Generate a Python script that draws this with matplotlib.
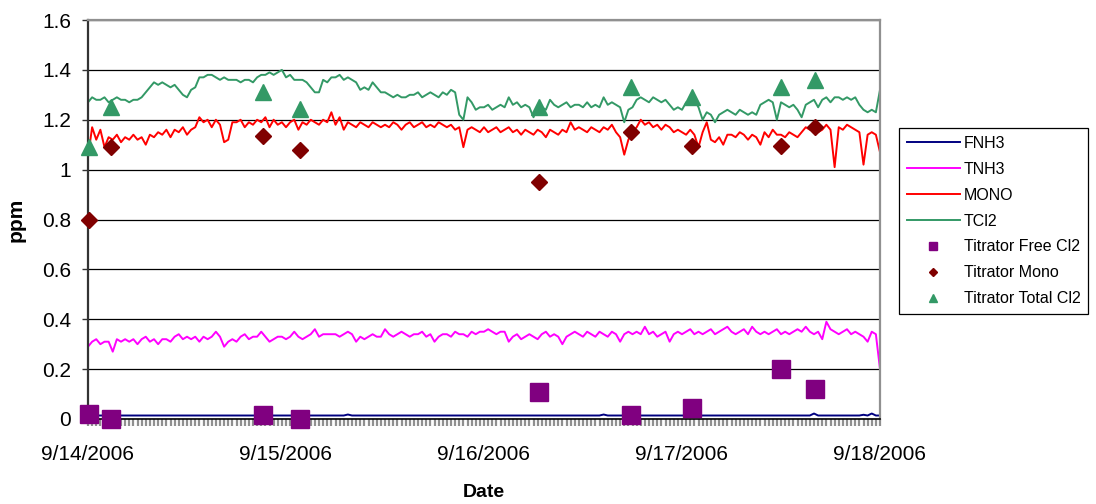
import matplotlib
matplotlib.use("Agg")
import matplotlib.pyplot as plt
import matplotlib.dates as mdates
import numpy as np
import pandas as pd

plt.rcParams['font.family'] = ['Liberation Sans', 'DejaVu Sans']

# online analyser, one reading every 30 minutes from 9/14/2006 00:00
start = "2006-09-14 00:00"

TCL2 = [
    1.27, 1.29, 1.28, 1.28, 1.29, 1.27, 1.28, 1.29, 1.28, 1.28, 1.27, 1.28,
    1.28, 1.29, 1.31, 1.33, 1.35, 1.34, 1.35, 1.34, 1.33, 1.34, 1.32, 1.30,
    1.29, 1.32, 1.33, 1.37, 1.37, 1.38, 1.38, 1.37, 1.36, 1.37, 1.36, 1.36,
    1.36, 1.35, 1.36, 1.36, 1.35, 1.37, 1.38, 1.38, 1.39, 1.38, 1.39, 1.40,
    1.37, 1.38, 1.36, 1.36, 1.36, 1.35, 1.33, 1.31, 1.31, 1.36, 1.35, 1.37,
    1.37, 1.38, 1.36, 1.37, 1.36, 1.35, 1.32, 1.33, 1.32, 1.35, 1.33, 1.31,
    1.31, 1.30, 1.29, 1.30, 1.29, 1.29, 1.30, 1.30, 1.31, 1.29, 1.30, 1.31,
    1.30, 1.29, 1.31, 1.30, 1.32, 1.31, 1.22, 1.20, 1.29, 1.27, 1.24, 1.25,
    1.25, 1.26, 1.24, 1.25, 1.26, 1.25, 1.29, 1.26, 1.27, 1.25, 1.26, 1.25,
    1.21, 1.25, 1.25, 1.24, 1.28, 1.26, 1.25, 1.26, 1.27, 1.25, 1.26, 1.26,
    1.25, 1.27, 1.25, 1.26, 1.25, 1.29, 1.26, 1.27, 1.26, 1.25, 1.19, 1.24,
    1.25, 1.28, 1.29, 1.28, 1.27, 1.29, 1.28, 1.27, 1.28, 1.26, 1.24, 1.25,
    1.24, 1.27, 1.27, 1.28, 1.25, 1.20, 1.23, 1.22, 1.19, 1.22, 1.23, 1.24,
    1.23, 1.22, 1.24, 1.23, 1.22, 1.23, 1.22, 1.26, 1.27, 1.28, 1.27, 1.20,
    1.27, 1.26, 1.25, 1.26, 1.24, 1.21, 1.26, 1.27, 1.28, 1.25, 1.28, 1.29,
    1.27, 1.29, 1.29, 1.28, 1.29, 1.28, 1.29, 1.26, 1.24, 1.23, 1.24, 1.23,
    1.32,
]

MONO = [
    1.05, 1.17, 1.12, 1.16, 1.09, 1.13, 1.12, 1.14, 1.11, 1.13, 1.12, 1.14,
    1.12, 1.13, 1.10, 1.14, 1.13, 1.15, 1.14, 1.16, 1.13, 1.16, 1.15, 1.17,
    1.14, 1.16, 1.17, 1.21, 1.19, 1.20, 1.17, 1.20, 1.18, 1.11, 1.12, 1.19,
    1.19, 1.20, 1.17, 1.19, 1.18, 1.20, 1.19, 1.21, 1.17, 1.20, 1.18, 1.19,
    1.17, 1.19, 1.20, 1.16, 1.19, 1.18, 1.20, 1.19, 1.18, 1.20, 1.19, 1.23,
    1.18, 1.21, 1.16, 1.19, 1.18, 1.17, 1.19, 1.18, 1.17, 1.19, 1.18, 1.17,
    1.18, 1.17, 1.19, 1.18, 1.16, 1.18, 1.19, 1.17, 1.18, 1.19, 1.17, 1.18,
    1.17, 1.19, 1.18, 1.17, 1.18, 1.16, 1.17, 1.09, 1.16, 1.17, 1.16, 1.15,
    1.17, 1.15, 1.16, 1.17, 1.15, 1.16, 1.17, 1.15, 1.16, 1.14, 1.16, 1.15,
    1.14, 1.16, 1.15, 1.13, 1.16, 1.15, 1.14, 1.16, 1.15, 1.19, 1.16, 1.17,
    1.16, 1.15, 1.17, 1.16, 1.15, 1.17, 1.16, 1.18, 1.15, 1.13, 1.06, 1.12,
    1.15, 1.17, 1.20, 1.18, 1.19, 1.17, 1.18, 1.16, 1.18, 1.17, 1.15, 1.16,
    1.15, 1.14, 1.16, 1.14, 1.09, 1.15, 1.19, 1.12, 1.11, 1.13, 1.10, 1.14,
    1.14, 1.13, 1.15, 1.14, 1.12, 1.14, 1.13, 1.10, 1.15, 1.13, 1.16, 1.14,
    1.14, 1.13, 1.15, 1.14, 1.13, 1.15, 1.17, 1.16, 1.17, 1.15, 1.16, 1.18,
    1.16, 1.01, 1.17, 1.16, 1.18, 1.17, 1.16, 1.15, 1.02, 1.14, 1.15, 1.14,
    1.07,
]

TNH3 = [
    0.29, 0.31, 0.32, 0.30, 0.31, 0.31, 0.27, 0.32, 0.31, 0.32, 0.31, 0.32,
    0.30, 0.32, 0.33, 0.31, 0.32, 0.30, 0.32, 0.32, 0.31, 0.33, 0.34, 0.32,
    0.33, 0.32, 0.33, 0.31, 0.33, 0.32, 0.33, 0.35, 0.33, 0.29, 0.31, 0.32,
    0.31, 0.33, 0.34, 0.32, 0.33, 0.33, 0.35, 0.33, 0.31, 0.32, 0.33, 0.33,
    0.32, 0.33, 0.35, 0.33, 0.32, 0.33, 0.34, 0.36, 0.33, 0.34, 0.34, 0.34,
    0.34, 0.33, 0.34, 0.35, 0.34, 0.31, 0.33, 0.32, 0.33, 0.34, 0.33, 0.33,
    0.36, 0.34, 0.33, 0.34, 0.35, 0.34, 0.33, 0.34, 0.34, 0.35, 0.33, 0.34,
    0.31, 0.33, 0.34, 0.34, 0.33, 0.35, 0.34, 0.34, 0.33, 0.35, 0.34, 0.35,
    0.35, 0.36, 0.35, 0.34, 0.35, 0.35, 0.31, 0.33, 0.34, 0.32, 0.33, 0.34,
    0.33, 0.32, 0.34, 0.35, 0.33, 0.34, 0.33, 0.30, 0.33, 0.34, 0.35, 0.34,
    0.33, 0.35, 0.34, 0.33, 0.35, 0.34, 0.33, 0.35, 0.34, 0.31, 0.34, 0.35,
    0.34, 0.35, 0.34, 0.37, 0.34, 0.35, 0.33, 0.34, 0.35, 0.31, 0.34, 0.35,
    0.34, 0.35, 0.36, 0.34, 0.35, 0.34, 0.35, 0.36, 0.34, 0.35, 0.36, 0.37,
    0.35, 0.34, 0.35, 0.36, 0.34, 0.37, 0.35, 0.34, 0.35, 0.34, 0.35, 0.36,
    0.34, 0.35, 0.34, 0.35, 0.36, 0.35, 0.37, 0.35, 0.34, 0.35, 0.32, 0.39,
    0.36, 0.35, 0.34, 0.35, 0.36, 0.34, 0.35, 0.34, 0.33, 0.31, 0.35, 0.34,
    0.20,
]

FNH3 = [
    0.014, 0.014, 0.014, 0.014, 0.014, 0.014, 0.014, 0.014, 0.014, 0.014, 0.014, 0.014,
    0.014, 0.014, 0.014, 0.014, 0.014, 0.014, 0.014, 0.014, 0.014, 0.014, 0.014, 0.014,
    0.014, 0.014, 0.014, 0.014, 0.014, 0.014, 0.014, 0.014, 0.014, 0.014, 0.014, 0.014,
    0.014, 0.014, 0.014, 0.014, 0.014, 0.014, 0.014, 0.014, 0.014, 0.014, 0.014, 0.014,
    0.014, 0.014, 0.014, 0.014, 0.014, 0.014, 0.014, 0.014, 0.014, 0.014, 0.014, 0.014,
    0.014, 0.014, 0.014, 0.018, 0.014, 0.014, 0.014, 0.014, 0.014, 0.014, 0.014, 0.014,
    0.014, 0.014, 0.014, 0.014, 0.014, 0.014, 0.014, 0.014, 0.014, 0.014, 0.014, 0.014,
    0.014, 0.014, 0.014, 0.014, 0.014, 0.014, 0.014, 0.014, 0.014, 0.014, 0.014, 0.014,
    0.014, 0.014, 0.014, 0.014, 0.014, 0.014, 0.014, 0.014, 0.014, 0.014, 0.014, 0.014,
    0.014, 0.014, 0.014, 0.014, 0.014, 0.014, 0.014, 0.014, 0.014, 0.014, 0.014, 0.014,
    0.014, 0.014, 0.014, 0.014, 0.014, 0.018, 0.014, 0.014, 0.014, 0.014, 0.014, 0.014,
    0.014, 0.014, 0.014, 0.014, 0.014, 0.014, 0.014, 0.014, 0.014, 0.014, 0.014, 0.014,
    0.014, 0.014, 0.014, 0.014, 0.014, 0.014, 0.014, 0.014, 0.014, 0.014, 0.014, 0.014,
    0.014, 0.014, 0.014, 0.014, 0.014, 0.014, 0.014, 0.014, 0.014, 0.014, 0.014, 0.014,
    0.014, 0.014, 0.014, 0.014, 0.014, 0.014, 0.014, 0.014, 0.022, 0.014, 0.014, 0.014,
    0.014, 0.014, 0.014, 0.014, 0.014, 0.014, 0.014, 0.014, 0.017, 0.014, 0.022, 0.014,
    0.014,
]

# hand titrations (grab samples)
titr_times = ["2006-09-14 00:07", "2006-09-14 02:47", "2006-09-14 21:13",
              "2006-09-15 01:42", "2006-09-16 06:40", "2006-09-16 17:48",
              "2006-09-17 01:12", "2006-09-17 12:00", "2006-09-17 16:08"]
titr_free = [0.02, 0.0, 0.015, 0.0, 0.11, 0.015, 0.045, 0.20, 0.12]
titr_mono = [0.80, 1.09, 1.135, 1.08, 0.95, 1.15, 1.095, 1.095, 1.17]
titr_total = [1.09, 1.25, 1.31, 1.245, 1.25, 1.33, 1.29, 1.33, 1.36]

date_ticks = ["2006-09-14", "2006-09-15", "2006-09-16", "2006-09-17", "2006-09-18"]
date_labels = ["9/14/2006", "9/15/2006", "9/16/2006", "9/17/2006", "9/18/2006"]
y_ticks = [0, 0.2, 0.4, 0.6, 0.8, 1.0, 1.2, 1.4, 1.6]
y_labels = ["0", "0.2", "0.4", "0.6", "0.8", "1", "1.2", "1.4", "1.6"]

t = pd.date_range(start, periods=len(TCL2), freq="30min")
tt = pd.to_datetime(titr_times)

fig = plt.figure(figsize=(10.96, 5.04), dpi=100)
ax = fig.add_axes([88 / 1096, 1 - 419 / 504, 792 / 1096, 399 / 504])

ax.plot(t, FNH3, color="#000080", lw=1.4, label="FNH3")
ax.plot(t, TNH3, color="#FF00FF", lw=1.4, label="TNH3")
ax.plot(t, MONO, color="#FF0000", lw=1.4, label="MONO")
ax.plot(t, TCL2, color="#339966", lw=1.4, label="TCl2")
ax.plot(tt, titr_free, ls="none", marker="s", ms=12.5, color="#800080",
        label="Titrator Free Cl2", clip_on=False, zorder=5)
ax.plot(tt, titr_mono, ls="none", marker="D", ms=8.5, color="#800000",
        label="Titrator Mono", clip_on=False, zorder=5)
ax.plot(tt, titr_total, ls="none", marker="^", ms=12, color="#339966",
        label="Titrator Total Cl2", clip_on=False, zorder=5)

ax.set_xlim(pd.Timestamp(date_ticks[0]), pd.Timestamp(date_ticks[-1]))
ax.set_ylim(0, 1.6)
ax.set_xticks(pd.to_datetime(date_ticks))
ax.set_xticklabels(date_labels)
ax.xaxis.set_minor_locator(mdates.MinuteLocator(byminute=[0, 30]))
ax.set_yticks(y_ticks)
ax.set_yticklabels(y_labels)

ax.grid(axis="y", color="black", lw=0.9)
ax.set_axisbelow(True)
ax.tick_params(axis="y", which="major", length=4, width=1, color="#333333",
               pad=8, labelsize=15)
ax.tick_params(axis="x", which="both", length=5, width=1.6, color="#909090",
               pad=14, labelsize=15)

for side in ["top", "right"]:
    ax.spines[side].set_color("#909090")
    ax.spines[side].set_linewidth(1.6)
ax.spines["left"].set_color("#333333")
ax.spines["left"].set_linewidth(1.6)
ax.spines["bottom"].set_color("black")
ax.spines["bottom"].set_linewidth(1.2)

ax.set_ylabel("ppm", fontsize=15, fontweight="bold", labelpad=12)
ax.set_xlabel("Date", fontsize=14, fontweight="bold", labelpad=14)

leg = ax.legend(loc="upper left", bbox_to_anchor=(899 / 1096, 1 - 128 / 504),
                bbox_transform=fig.transFigure, fontsize=11.5, frameon=True,
                fancybox=False, edgecolor="black", framealpha=1,
                markerscale=0.45, handlelength=3.3, handletextpad=0.25,
                labelspacing=0.68, borderpad=0.5, borderaxespad=0)
leg.get_frame().set_linewidth(0.9)

fig.savefig("out.png", dpi=100)
